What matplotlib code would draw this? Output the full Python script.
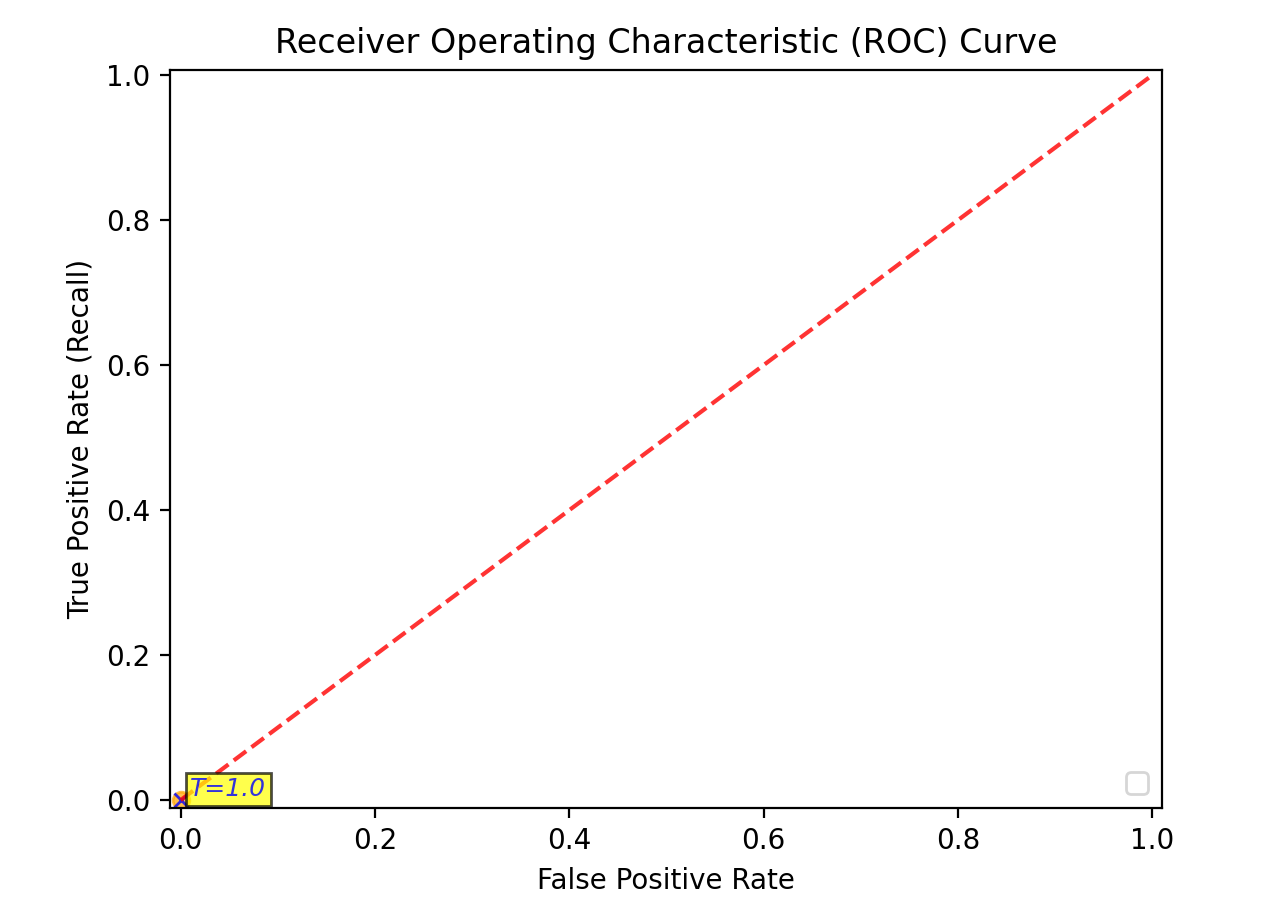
import matplotlib
matplotlib.use('Agg')
import matplotlib.pyplot as plt

# ROC data
fpr = [0.0]
tpr = [0.0]
thresholds = [1.0]
diag = [0, 1]

fig = plt.figure(figsize=(6.42, 4.59), dpi=200)
ax = fig.add_axes([0.1324, 0.1198, 0.7726, 0.8039])

# the curve (single point)
ax.plot(fpr, tpr, 'o', color='orange', markersize=6, alpha=0.7)
ax.plot(fpr, tpr, 'x', color='blue', markersize=5, alpha=0.8)

# random guess line
ax.plot(diag, diag, 'r--', lw=1.5, alpha=0.8)

# threshold labels
for x, y, t in zip(fpr, tpr, thresholds):
    ax.text(x + 0.01, y + 0.005, 'T=' + str(t), color='blue', alpha=0.8,
            fontstyle='italic', fontsize=9,
            bbox=dict(facecolor='yellow', alpha=0.7, pad=1.5))

ax.set_xlim(-0.011, 1.010)
ax.set_ylim(-0.011, 1.007)
ax.set_title('Receiver Operating Characteristic (ROC) Curve')
ax.set_xlabel('False Positive Rate')
ax.set_ylabel('True Positive Rate (Recall)')
ax.legend(loc='lower right')

fig.savefig('out.png', dpi=200)
